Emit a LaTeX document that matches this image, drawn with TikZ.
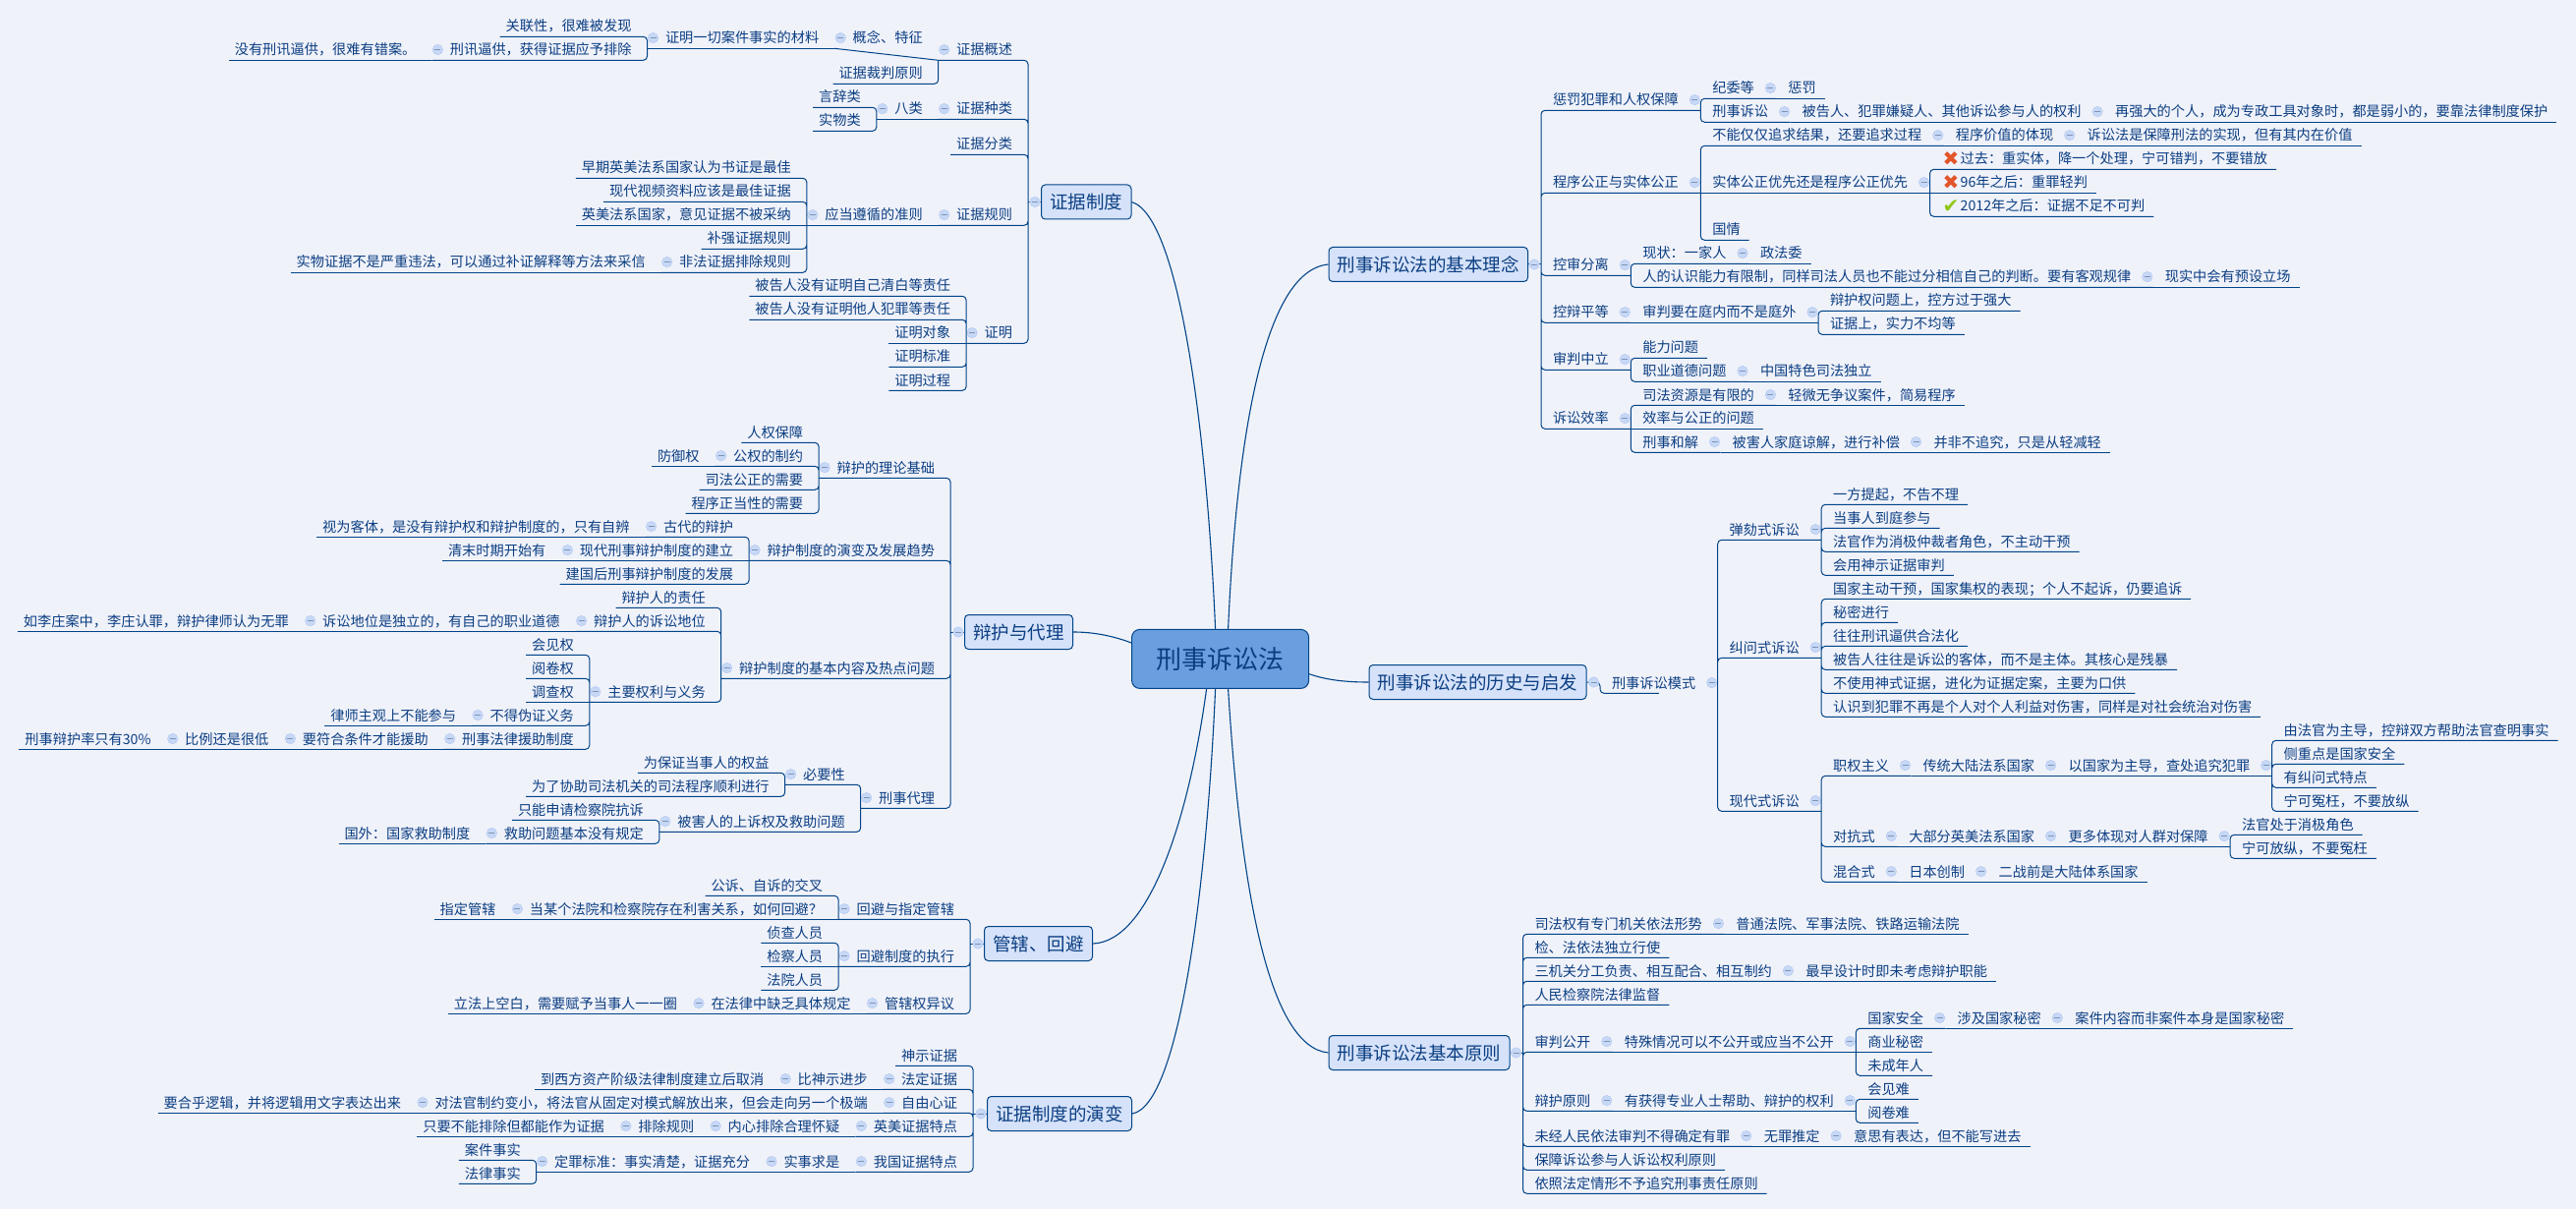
\documentclass[tikz,border=0pt]{standalone}
\usepackage{fontspec}
\setmainfont{Noto Sans CJK SC}
\newfontfamily\iconfont{DejaVu Sans}
\definecolor{bgcol}{HTML}{F0F2FA}
\definecolor{inkblue}{HTML}{0B3E82}
\definecolor{linkblue}{HTML}{004488}
\definecolor{topicfill}{HTML}{D5E2F9}
\definecolor{rootfill}{HTML}{6A9FDF}
\definecolor{foldfill}{HTML}{C6D8F6}
\definecolor{foldedge}{HTML}{AFC5EE}
\definecolor{foldminus}{HTML}{7F93B5}
\definecolor{crossred}{HTML}{E2552B}
\definecolor{tickgreen}{HTML}{8FC814}
\newcommand{\crossmk}{\makebox[19pt][c]{\raisebox{-1.8pt}{\fontsize{20}{20}\iconfont\textcolor{crossred}{✖}}}}
\newcommand{\tickmk}{\makebox[19pt][c]{\raisebox{-1.8pt}{\fontsize{20}{20}\iconfont\textcolor{tickgreen}{✔}}}}
\tikzset{
	item/.style={inner sep=0pt, outer sep=0pt, text=inkblue, font=\fontsize{14.2}{16}\selectfont, text height=18.7pt, text depth=5.3pt},
	foldmk/.style={circle, draw=foldedge, fill=foldfill, minimum size=10.5pt, inner sep=0pt,
		path picture={\draw[foldminus] ([xshift=-3pt]path picture bounding box.center) -- ([xshift=3pt]path picture bounding box.center);}},
	lf/.style={item, anchor=south east, execute at begin node={\hspace*{6pt}}, execute at end node={\hspace*{16pt}}},
	lp/.style={item, anchor=south east, execute at begin node={\hspace*{18.5pt}}, execute at end node={\hspace*{16pt}},
		append after command={node[foldmk] (\tikzlastnode-f) at ([shift={(6pt,10.7pt)}]\tikzlastnode.south west) {}}},
	rf/.style={item, anchor=south west, execute at begin node={\hspace*{12pt}}, execute at end node={\hspace*{9pt}}},
	rp/.style={item, anchor=south west, execute at begin node={\hspace*{12pt}}, execute at end node={\hspace*{22.5pt}},
		append after command={node[foldmk] (\tikzlastnode-f) at ([shift={(-6pt,10.7pt)}]\tikzlastnode.south east) {}}},
	topic/.style={draw=linkblue, line width=1pt, fill=topicfill, rounded corners=4pt, text=inkblue, font=\fontsize{18.5}{22}\selectfont, inner xsep=8.75pt, inner ysep=0pt, minimum height=35pt},
	root/.style={draw=linkblue, line width=1pt, fill=rootfill, rounded corners=8pt, text=inkblue, font=\fontsize{26}{30}\selectfont, minimum width=180pt, minimum height=60pt},
	lnk/.style={draw=linkblue, line width=1pt, rounded corners=4pt},
	branch/.style={draw=linkblue, line width=1.1pt},
}
\begin{document}
\begin{tikzpicture}[x=1pt, y=-1pt]
	\fill[bgcol, use as bounding box] (0,0) rectangle (2621,1230);

	% centre and the seven main topics
	\node[root] (root) at (1241.6,670.4) {刑事诉讼法};
	\node[topic, anchor=west] (zj) at (1059,205.5) {证据制度};
	\node[topic, anchor=west] (bh) at (981,643) {辩护与代理};
	\node[topic, anchor=west] (gx) at (1001,960) {管辖、回避};
	\node[topic, anchor=west] (yb) at (1004,1133) {证据制度的演变};
	\node[topic, anchor=west] (ll) at (1351.5,269) {刑事诉讼法的基本理念};
	\node[topic, anchor=west] (ls) at (1392.5,694) {刑事诉讼法的历史与启发};
	\node[topic, anchor=west] (yz) at (1351.5,1071) {刑事诉讼法基本原则};
	\coordinate (zjbus) at ([xshift=-13pt]zj.west);
	\coordinate (bhbus) at ([xshift=-14pt]bh.west);
	\coordinate (gxbus) at ([xshift=-14pt]gx.west);
	\coordinate (ybbus) at ([xshift=-14pt]yb.west);
	\coordinate (llbus) at ([xshift=13pt]ll.east);
	\coordinate (lsbus) at ([xshift=13.5pt]ls.east);
	\coordinate (yzbus) at ([xshift=13pt]yz.east);

	\draw[branch] ([xshift=-5pt]root.north) .. controls (1228,440) and (1200,220) .. (zj.east);
	\draw[branch] ([xshift=8pt]root.north) .. controls (1258,450) and (1285,275) .. (ll.west);
	\draw[branch] (root.west |- 0,654) .. controls (1130,646) and (1110,643) .. (bh.east);
	\draw[branch] (root.east |- 0,685.7) .. controls (1350,692) and (1370,694) .. (ls.west);
	\draw[branch] ([xshift=-14pt]root.south) .. controls (1210,830) and (1170,958) .. (gx.east);
	\draw[branch] ([xshift=-5pt]root.south) .. controls (1228,900) and (1200,1125) .. (yb.east);
	\draw[branch] ([xshift=8pt]root.south) .. controls (1262,900) and (1290,1065) .. (yz.west);

	% zhengju zhidu
	\node[lp] (zj1) at (zjbus |- 0,61.3) {证据概述};
	\node[lp] (zj1a) at (zj1.south west |- 0,49.3) {概念、特征};
	\node[lp] (zj1a1) at (zj1a.south west |- 0,49.3) {证明一切案件事实的材料};
	\node[lf] (zj1a1a) at (zj1a1.south west |- 0,37.3) {关联性，很难被发现};
	\node[lp] (zj1a1b) at (zj1a1.south west |- 0,61.3) {刑讯逼供，获得证据应予排除};
	\node[lf] (zj1a1b1) at (zj1a1b.south west |- 0,61.3) {没有刑讯逼供，很难有错案。};
	\node[lf] (zj1b) at (zj1.south west |- 0,85.3) {证据裁判原则};
	\node[lp] (zj2) at (zjbus |- 0,121.3) {证据种类};
	\node[lp] (zj2a) at (zj2.south west |- 0,121.3) {八类};
	\node[lf] (zj2a1) at (zj2a.south west |- 0,109.3) {言辞类};
	\node[lf] (zj2a2) at (zj2a.south west |- 0,133.3) {实物类};
	\node[lf] (zj3) at (zjbus |- 0,157.3) {证据分类};
	\node[lp] (zj4) at (zjbus |- 0,229.3) {证据规则};
	\node[lp] (zj4a) at (zj4.south west |- 0,229.3) {应当遵循的准则};
	\node[lf] (zj4a1) at (zj4a.south west |- 0,181.3) {早期英美法系国家认为书证是最佳};
	\node[lf] (zj4a2) at (zj4a.south west |- 0,205.3) {现代视频资料应该是最佳证据};
	\node[lf] (zj4a3) at (zj4a.south west |- 0,229.3) {英美法系国家，意见证据不被采纳};
	\node[lf] (zj4a4) at (zj4a.south west |- 0,253.3) {补强证据规则};
	\node[lp] (zj4a5) at (zj4a.south west |- 0,277.3) {非法证据排除规则};
	\node[lf] (zj4a5a) at (zj4a5.south west |- 0,277.3) {实物证据不是严重违法，可以通过补证解释等方法来采信};
	\node[lp] (zj5) at (zjbus |- 0,349.3) {证明};
	\node[lf] (zj5a) at (zj5.south west |- 0,301.3) {被告人没有证明自己清白等责任};
	\node[lf] (zj5b) at (zj5.south west |- 0,325.3) {被告人没有证明他人犯罪等责任};
	\node[lf] (zj5c) at (zj5.south west |- 0,349.3) {证明对象};
	\node[lf] (zj5d) at (zj5.south west |- 0,373.3) {证明标准};
	\node[lf] (zj5e) at (zj5.south west |- 0,397.3) {证明过程};

	\draw[lnk] (zj.west) -- (zjbus);
	\draw[lnk] (zj1.south west) -| (zjbus) (zj2.south west) -| (zjbus) (zj3.south west) -| (zjbus) (zj4.south west) -| (zjbus) (zj5.south west) -| (zjbus);
	\draw[lnk] (zj1a.south west) -- (zj1.south west) (zj1b.south west) -| (zj1.south west);
	\draw[lnk] (zj1a1.south west) -- (zj1a.south west);
	\draw[lnk] (zj1a1a.south west) -| (zj1a1.south west) (zj1a1b.south west) -| (zj1a1.south west);
	\draw[lnk] (zj1a1b1.south west) -- (zj1a1b.south west);
	\draw[lnk] (zj2a.south west) -- (zj2.south west);
	\draw[lnk] (zj2a1.south west) -| (zj2a.south west) (zj2a2.south west) -| (zj2a.south west);
	\draw[lnk] (zj4a.south west) -- (zj4.south west);
	\draw[lnk] (zj4a1.south west) -| (zj4a.south west) (zj4a2.south west) -| (zj4a.south west) (zj4a4.south west) -| (zj4a.south west) (zj4a5.south west) -| (zj4a.south west);
	\draw[lnk] (zj4a3.south west) -- (zj4a.south west);
	\draw[lnk] (zj4a5a.south west) -- (zj4a5.south west);
	\draw[lnk] (zj5a.south west) -| (zj5.south west) (zj5b.south west) -| (zj5.south west) (zj5d.south west) -| (zj5.south west) (zj5e.south west) -| (zj5.south west);
	\draw[lnk] (zj5c.south west) -- (zj5.south west);
	\node[foldmk] (zjf) at ([xshift=-6pt]zj.west) {};

	% bianhu yu daili
	\node[lp] (bh1) at (bhbus |- 0,486.3) {辩护的理论基础};
	\node[lf] (bh1a) at (bh1.south west |- 0,450.3) {人权保障};
	\node[lp] (bh1b) at (bh1.south west |- 0,474.3) {公权的制约};
	\node[lf] (bh1b1) at (bh1b.south west |- 0,474.3) {防御权};
	\node[lf] (bh1c) at (bh1.south west |- 0,498.3) {司法公正的需要};
	\node[lf] (bh1d) at (bh1.south west |- 0,522.3) {程序正当性的需要};
	\node[lp] (bh2) at (bhbus |- 0,570.3) {辩护制度的演变及发展趋势};
	\node[lp] (bh2a) at (bh2.south west |- 0,546.3) {古代的辩护};
	\node[lf] (bh2a1) at (bh2a.south west |- 0,546.3) {视为客体，是没有辩护权和辩护制度的，只有自辨};
	\node[lp] (bh2b) at (bh2.south west |- 0,570.3) {现代刑事辩护制度的建立};
	\node[lf] (bh2b1) at (bh2b.south west |- 0,570.3) {清末时期开始有};
	\node[lf] (bh2c) at (bh2.south west |- 0,594.3) {建国后刑事辩护制度的发展};
	\node[lp] (bh3) at (bhbus |- 0,690.3) {辩护制度的基本内容及热点问题};
	\node[lf] (bh3a) at (bh3.south west |- 0,618.3) {辩护人的责任};
	\node[lp] (bh3b) at (bh3.south west |- 0,642.3) {辩护人的诉讼地位};
	\node[lp] (bh3b1) at (bh3b.south west |- 0,642.3) {诉讼地位是独立的，有自己的职业道德};
	\node[lf] (bh3b2) at (bh3b1.south west |- 0,642.3) {如李庄案中，李庄认罪，辩护律师认为无罪};
	\node[lp] (bh3c) at (bh3.south west |- 0,714.3) {主要权利与义务};
	\node[lf] (bh3c1) at (bh3c.south west |- 0,666.3) {会见权};
	\node[lf] (bh3c2) at (bh3c.south west |- 0,690.3) {阅卷权};
	\node[lf] (bh3c3) at (bh3c.south west |- 0,714.3) {调查权};
	\node[lp] (bh3c4) at (bh3c.south west |- 0,738.3) {不得伪证义务};
	\node[lf] (bh3c4a) at (bh3c4.south west |- 0,738.3) {律师主观上不能参与};
	\node[lp] (bh3c5) at (bh3c.south west |- 0,762.3) {刑事法律援助制度};
	\node[lp] (bh3c5a) at (bh3c5.south west |- 0,762.3) {要符合条件才能援助};
	\node[lp] (bh3c5b) at (bh3c5a.south west |- 0,762.3) {比例还是很低};
	\node[lf] (bh3c5c) at (bh3c5b.south west |- 0,762.3) {刑事辩护率只有30\%};
	\node[lp] (bh4) at (bhbus |- 0,822.3) {刑事代理};
	\node[lp] (bh4a) at (bh4.south west |- 0,798.3) {必要性};
	\node[lf] (bh4a1) at (bh4a.south west |- 0,786.3) {为保证当事人的权益};
	\node[lf] (bh4a2) at (bh4a.south west |- 0,810.3) {为了协助司法机关的司法程序顺利进行};
	\node[lp] (bh4b) at (bh4.south west |- 0,846.3) {被害人的上诉权及救助问题};
	\node[lf] (bh4b1) at (bh4b.south west |- 0,834.3) {只能申请检察院抗诉};
	\node[lp] (bh4b2) at (bh4b.south west |- 0,858.3) {救助问题基本没有规定};
	\node[lf] (bh4b2a) at (bh4b2.south west |- 0,858.3) {国外：国家救助制度};

	\draw[lnk] (bh.west) -- (bhbus);
	\draw[lnk] (bh1.south west) -| (bhbus) (bh2.south west) -| (bhbus) (bh3.south west) -| (bhbus) (bh4.south west) -| (bhbus);
	\draw[lnk] (bh1a.south west) -| (bh1.south west) (bh1b.south west) -| (bh1.south west) (bh1c.south west) -| (bh1.south west) (bh1d.south west) -| (bh1.south west);
	\draw[lnk] (bh1b1.south west) -- (bh1b.south west);
	\draw[lnk] (bh2a.south west) -| (bh2.south west) (bh2c.south west) -| (bh2.south west);
	\draw[lnk] (bh2b.south west) -- (bh2.south west);
	\draw[lnk] (bh2a1.south west) -- (bh2a.south west);
	\draw[lnk] (bh2b1.south west) -- (bh2b.south west);
	\draw[lnk] (bh3a.south west) -| (bh3.south west) (bh3b.south west) -| (bh3.south west) (bh3c.south west) -| (bh3.south west);
	\draw[lnk] (bh3b1.south west) -- (bh3b.south west);
	\draw[lnk] (bh3b2.south west) -- (bh3b1.south west);
	\draw[lnk] (bh3c1.south west) -| (bh3c.south west) (bh3c2.south west) -| (bh3c.south west) (bh3c4.south west) -| (bh3c.south west) (bh3c5.south west) -| (bh3c.south west);
	\draw[lnk] (bh3c3.south west) -- (bh3c.south west);
	\draw[lnk] (bh3c4a.south west) -- (bh3c4.south west);
	\draw[lnk] (bh3c5a.south west) -- (bh3c5.south west);
	\draw[lnk] (bh3c5b.south west) -- (bh3c5a.south west);
	\draw[lnk] (bh3c5c.south west) -- (bh3c5b.south west);
	\draw[lnk] (bh4a.south west) -| (bh4.south west) (bh4b.south west) -| (bh4.south west);
	\draw[lnk] (bh4a1.south west) -| (bh4a.south west) (bh4a2.south west) -| (bh4a.south west);
	\draw[lnk] (bh4b1.south west) -| (bh4b.south west) (bh4b2.south west) -| (bh4b.south west);
	\draw[lnk] (bh4b2a.south west) -- (bh4b2.south west);
	\node[foldmk] (bhf) at ([xshift=-6pt]bh.west) {};

	% guanxia, huibi
	\node[lp] (gx1) at (gxbus |- 0,935.3) {回避与指定管辖};
	\node[lf] (gx1a) at (gx1.south west |- 0,911.3) {公诉、自诉的交叉};
	\node[lp] (gx1b) at (gx1.south west |- 0,935.3) {当某个法院和检察院存在利害关系，如何回避？};
	\node[lf] (gx1b1) at (gx1b.south west |- 0,935.3) {指定管辖};
	\node[lp] (gx2) at (gxbus |- 0,983.3) {回避制度的执行};
	\node[lf] (gx2a) at (gx2.south west |- 0,959.3) {侦查人员};
	\node[lf] (gx2b) at (gx2.south west |- 0,983.3) {检察人员};
	\node[lf] (gx2c) at (gx2.south west |- 0,1007.3) {法院人员};
	\node[lp] (gx3) at (gxbus |- 0,1031.3) {管辖权异议};
	\node[lp] (gx3a) at (gx3.south west |- 0,1031.3) {在法律中缺乏具体规定};
	\node[lf] (gx3b) at (gx3a.south west |- 0,1031.3) {立法上空白，需要赋予当事人一一圈};

	\draw[lnk] (gx.west) -- (gxbus);
	\draw[lnk] (gx1.south west) -| (gxbus) (gx2.south west) -| (gxbus) (gx3.south west) -| (gxbus);
	\draw[lnk] (gx1a.south west) -| (gx1.south west);
	\draw[lnk] (gx1b.south west) -- (gx1.south west);
	\draw[lnk] (gx1b1.south west) -- (gx1b.south west);
	\draw[lnk] (gx2a.south west) -| (gx2.south west) (gx2c.south west) -| (gx2.south west);
	\draw[lnk] (gx2b.south west) -- (gx2.south west);
	\draw[lnk] (gx3a.south west) -- (gx3.south west);
	\draw[lnk] (gx3b.south west) -- (gx3a.south west);
	\node[foldmk] (gxf) at ([xshift=-6pt]gx.west) {};

	% zhengju zhidu de yanbian
	\node[lf] (yb1) at (ybbus |- 0,1084.3) {神示证据};
	\node[lp] (yb2) at (ybbus |- 0,1108.3) {法定证据};
	\node[lp] (yb2a) at (yb2.south west |- 0,1108.3) {比神示进步};
	\node[lf] (yb2b) at (yb2a.south west |- 0,1108.3) {到西方资产阶级法律制度建立后取消};
	\node[lp] (yb3) at (ybbus |- 0,1132.3) {自由心证};
	\node[lp] (yb3a) at (yb3.south west |- 0,1132.3) {对法官制约变小，将法官从固定对模式解放出来，但会走向另一个极端};
	\node[lf] (yb3b) at (yb3a.south west |- 0,1132.3) {要合乎逻辑，并将逻辑用文字表达出来};
	\node[lp] (yb4) at (ybbus |- 0,1156.3) {英美证据特点};
	\node[lp] (yb4a) at (yb4.south west |- 0,1156.3) {内心排除合理怀疑};
	\node[lp] (yb4b) at (yb4a.south west |- 0,1156.3) {排除规则};
	\node[lf] (yb4c) at (yb4b.south west |- 0,1156.3) {只要不能排除但都能作为证据};
	\node[lp] (yb5) at (ybbus |- 0,1192.3) {我国证据特点};
	\node[lp] (yb5a) at (yb5.south west |- 0,1192.3) {实事求是};
	\node[lp] (yb5b) at (yb5a.south west |- 0,1192.3) {定罪标准：事实清楚，证据充分};
	\node[lf] (yb5b1) at (yb5b.south west |- 0,1180.3) {案件事实};
	\node[lf] (yb5b2) at (yb5b.south west |- 0,1204.3) {法律事实};

	\draw[lnk] (yb.west) -- (ybbus);
	\draw[lnk] (yb1.south west) -| (ybbus) (yb2.south west) -| (ybbus) (yb3.south west) -| (ybbus) (yb4.south west) -| (ybbus) (yb5.south west) -| (ybbus);
	\draw[lnk] (yb2a.south west) -- (yb2.south west);
	\draw[lnk] (yb2b.south west) -- (yb2a.south west);
	\draw[lnk] (yb3a.south west) -- (yb3.south west);
	\draw[lnk] (yb3b.south west) -- (yb3a.south west);
	\draw[lnk] (yb4a.south west) -- (yb4.south west);
	\draw[lnk] (yb4b.south west) -- (yb4a.south west);
	\draw[lnk] (yb4c.south west) -- (yb4b.south west);
	\draw[lnk] (yb5a.south west) -- (yb5.south west);
	\draw[lnk] (yb5b.south west) -- (yb5a.south west);
	\draw[lnk] (yb5b1.south west) -| (yb5b.south west) (yb5b2.south west) -| (yb5b.south west);
	\node[foldmk] (ybf) at ([xshift=-6pt]yb.west) {};

	% jiben linian
	\node[rp] (ll1) at (llbus |- 0,112.3) {惩罚犯罪和人权保障};
	\node[rp] (ll1a) at (ll1.south east |- 0,100.3) {纪委等};
	\node[rf] (ll1a1) at (ll1a.south east |- 0,100.3) {惩罚};
	\node[rp] (ll1b) at (ll1.south east |- 0,124.3) {刑事诉讼};
	\node[rp] (ll1b1) at (ll1b.south east |- 0,124.3) {被告人、犯罪嫌疑人、其他诉讼参与人的权利};
	\node[rf] (ll1b2) at (ll1b1.south east |- 0,124.3) {再强大的个人，成为专政工具对象时，都是弱小的，要靠法律制度保护};
	\node[rp] (ll2) at (llbus |- 0,196.3) {程序公正与实体公正};
	\node[rp] (ll2a) at (ll2.south east |- 0,148.3) {不能仅仅追求结果，还要追求过程};
	\node[rp] (ll2a1) at (ll2a.south east |- 0,148.3) {程序价值的体现};
	\node[rf] (ll2a2) at (ll2a1.south east |- 0,148.3) {诉讼法是保障刑法的实现，但有其内在价值};
	\node[rp] (ll2b) at (ll2.south east |- 0,196.3) {实体公正优先还是程序公正优先};
	\node[rf] (ll2b1) at (ll2b.south east |- 0,172.3) {\crossmk 过去：重实体，降一个处理，宁可错判，不要错放};
	\node[rf] (ll2b2) at (ll2b.south east |- 0,196.3) {\crossmk 96年之后：重罪轻判};
	\node[rf] (ll2b3) at (ll2b.south east |- 0,220.3) {\tickmk 2012年之后：证据不足不可判};
	\node[rf] (ll2c) at (ll2.south east |- 0,244.3) {国情};
	\node[rp] (ll3) at (llbus |- 0,280.3) {控审分离};
	\node[rp] (ll3a) at (ll3.south east |- 0,268.3) {现状：一家人};
	\node[rf] (ll3a1) at (ll3a.south east |- 0,268.3) {政法委};
	\node[rp] (ll3b) at (ll3.south east |- 0,292.3) {人的认识能力有限制，同样司法人员也不能过分相信自己的判断。要有客观规律};
	\node[rf] (ll3b1) at (ll3b.south east |- 0,292.3) {现实中会有预设立场};
	\node[rp] (ll4) at (llbus |- 0,328.3) {控辩平等};
	\node[rp] (ll4a) at (ll4.south east |- 0,328.3) {审判要在庭内而不是庭外};
	\node[rf] (ll4a1) at (ll4a.south east |- 0,316.3) {辩护权问题上，控方过于强大};
	\node[rf] (ll4a2) at (ll4a.south east |- 0,340.3) {证据上，实力不均等};
	\node[rp] (ll5) at (llbus |- 0,376.3) {审判中立};
	\node[rf] (ll5a) at (ll5.south east |- 0,364.3) {能力问题};
	\node[rp] (ll5b) at (ll5.south east |- 0,388.3) {职业道德问题};
	\node[rf] (ll5b1) at (ll5b.south east |- 0,388.3) {中国特色司法独立};
	\node[rp] (ll6) at (llbus |- 0,436.3) {诉讼效率};
	\node[rp] (ll6a) at (ll6.south east |- 0,412.3) {司法资源是有限的};
	\node[rf] (ll6a1) at (ll6a.south east |- 0,412.3) {轻微无争议案件，简易程序};
	\node[rf] (ll6b) at (ll6.south east |- 0,436.3) {效率与公正的问题};
	\node[rp] (ll6c) at (ll6.south east |- 0,460.3) {刑事和解};
	\node[rp] (ll6c1) at (ll6c.south east |- 0,460.3) {被害人家庭谅解，进行补偿};
	\node[rf] (ll6c2) at (ll6c1.south east |- 0,460.3) {并非不追究，只是从轻减轻};

	\draw[lnk] (ll.east) -- (llbus);
	\draw[lnk] (ll1.south east) -| (llbus) (ll2.south east) -| (llbus) (ll3.south east) -| (llbus) (ll4.south east) -| (llbus) (ll5.south east) -| (llbus) (ll6.south east) -| (llbus);
	\draw[lnk] (ll1a.south east) -| (ll1.south east) (ll1b.south east) -| (ll1.south east);
	\draw[lnk] (ll1a1.south east) -- (ll1a.south east);
	\draw[lnk] (ll1b1.south east) -- (ll1b.south east);
	\draw[lnk] (ll1b2.south east) -- (ll1b1.south east);
	\draw[lnk] (ll2a.south east) -| (ll2.south east) (ll2c.south east) -| (ll2.south east);
	\draw[lnk] (ll2b.south east) -- (ll2.south east);
	\draw[lnk] (ll2a1.south east) -- (ll2a.south east);
	\draw[lnk] (ll2a2.south east) -- (ll2a1.south east);
	\draw[lnk] (ll2b1.south east) -| (ll2b.south east) (ll2b3.south east) -| (ll2b.south east);
	\draw[lnk] (ll2b2.south east) -- (ll2b.south east);
	\draw[lnk] (ll3a.south east) -| (ll3.south east) (ll3b.south east) -| (ll3.south east);
	\draw[lnk] (ll3a1.south east) -- (ll3a.south east);
	\draw[lnk] (ll3b1.south east) -- (ll3b.south east);
	\draw[lnk] (ll4a.south east) -- (ll4.south east);
	\draw[lnk] (ll4a1.south east) -| (ll4a.south east) (ll4a2.south east) -| (ll4a.south east);
	\draw[lnk] (ll5a.south east) -| (ll5.south east) (ll5b.south east) -| (ll5.south east);
	\draw[lnk] (ll5b1.south east) -- (ll5b.south east);
	\draw[lnk] (ll6a.south east) -| (ll6.south east) (ll6c.south east) -| (ll6.south east);
	\draw[lnk] (ll6b.south east) -- (ll6.south east);
	\draw[lnk] (ll6a1.south east) -- (ll6a.south east);
	\draw[lnk] (ll6c1.south east) -- (ll6c.south east);
	\draw[lnk] (ll6c2.south east) -- (ll6c1.south east);
	\node[foldmk] (llf) at ([xshift=6pt]ll.east) {};

	% lishi yu qifa
	\node[rp] (ls1) at (lsbus |- 0,705.3) {刑事诉讼模式};
	\node[rp] (ls1a) at (ls1.south east |- 0,549.3) {弹劾式诉讼};
	\node[rf] (ls1a1) at (ls1a.south east |- 0,513.3) {一方提起，不告不理};
	\node[rf] (ls1a2) at (ls1a.south east |- 0,537.3) {当事人到庭参与};
	\node[rf] (ls1a3) at (ls1a.south east |- 0,561.3) {法官作为消极仲裁者角色，不主动干预};
	\node[rf] (ls1a4) at (ls1a.south east |- 0,585.3) {会用神示证据审判};
	\node[rp] (ls1b) at (ls1.south east |- 0,669.3) {纠问式诉讼};
	\node[rf] (ls1b1) at (ls1b.south east |- 0,609.3) {国家主动干预，国家集权的表现；个人不起诉，仍要追诉};
	\node[rf] (ls1b2) at (ls1b.south east |- 0,633.3) {秘密进行};
	\node[rf] (ls1b3) at (ls1b.south east |- 0,657.3) {往往刑讯逼供合法化};
	\node[rf] (ls1b4) at (ls1b.south east |- 0,681.3) {被告人往往是诉讼的客体，而不是主体。其核心是残暴};
	\node[rf] (ls1b5) at (ls1b.south east |- 0,705.3) {不使用神式证据，进化为证据定案，主要为口供};
	\node[rf] (ls1b6) at (ls1b.south east |- 0,729.3) {认识到犯罪不再是个人对个人利益对伤害，同样是对社会统治对伤害};
	\node[rp] (ls1c) at (ls1.south east |- 0,825.3) {现代式诉讼};
	\node[rp] (ls1c1) at (ls1c.south east |- 0,789.3) {职权主义};
	\node[rp] (ls1c1a) at (ls1c1.south east |- 0,789.3) {传统大陆法系国家};
	\node[rp] (ls1c1b) at (ls1c1a.south east |- 0,789.3) {以国家为主导，查处追究犯罪};
	\node[rf] (ls1c1b1) at (ls1c1b.south east |- 0,753.3) {由法官为主导，控辩双方帮助法官查明事实};
	\node[rf] (ls1c1b2) at (ls1c1b.south east |- 0,777.3) {侧重点是国家安全};
	\node[rf] (ls1c1b3) at (ls1c1b.south east |- 0,801.3) {有纠问式特点};
	\node[rf] (ls1c1b4) at (ls1c1b.south east |- 0,825.3) {宁可冤枉，不要放纵};
	\node[rp] (ls1c2) at (ls1c.south east |- 0,861.3) {对抗式};
	\node[rp] (ls1c2a) at (ls1c2.south east |- 0,861.3) {大部分英美法系国家};
	\node[rp] (ls1c2b) at (ls1c2a.south east |- 0,861.3) {更多体现对人群对保障};
	\node[rf] (ls1c2b1) at (ls1c2b.south east |- 0,849.3) {法官处于消极角色};
	\node[rf] (ls1c2b2) at (ls1c2b.south east |- 0,873.3) {宁可放纵，不要冤枉};
	\node[rp] (ls1c3) at (ls1c.south east |- 0,897.3) {混合式};
	\node[rp] (ls1c3a) at (ls1c3.south east |- 0,897.3) {日本创制};
	\node[rf] (ls1c3b) at (ls1c3a.south east |- 0,897.3) {二战前是大陆体系国家};

	\draw[lnk] (ls.east) -- (lsbus) |- (ls1.south);
	\draw[lnk] (ls1a.south east) -| (ls1.south east) (ls1b.south east) -| (ls1.south east) (ls1c.south east) -| (ls1.south east);
	\draw[lnk] (ls1a1.south east) -| (ls1a.south east) (ls1a2.south east) -| (ls1a.south east) (ls1a3.south east) -| (ls1a.south east) (ls1a4.south east) -| (ls1a.south east);
	\draw[lnk] (ls1b1.south east) -| (ls1b.south east) (ls1b2.south east) -| (ls1b.south east) (ls1b3.south east) -| (ls1b.south east) (ls1b4.south east) -| (ls1b.south east) (ls1b5.south east) -| (ls1b.south east) (ls1b6.south east) -| (ls1b.south east);
	\draw[lnk] (ls1c1.south east) -| (ls1c.south east) (ls1c2.south east) -| (ls1c.south east) (ls1c3.south east) -| (ls1c.south east);
	\draw[lnk] (ls1c1a.south east) -- (ls1c1.south east);
	\draw[lnk] (ls1c1b.south east) -- (ls1c1a.south east);
	\draw[lnk] (ls1c1b1.south east) -| (ls1c1b.south east) (ls1c1b2.south east) -| (ls1c1b.south east) (ls1c1b3.south east) -| (ls1c1b.south east) (ls1c1b4.south east) -| (ls1c1b.south east);
	\draw[lnk] (ls1c2a.south east) -- (ls1c2.south east);
	\draw[lnk] (ls1c2b.south east) -- (ls1c2a.south east);
	\draw[lnk] (ls1c2b1.south east) -| (ls1c2b.south east) (ls1c2b2.south east) -| (ls1c2b.south east);
	\draw[lnk] (ls1c3a.south east) -- (ls1c3.south east);
	\draw[lnk] (ls1c3b.south east) -- (ls1c3a.south east);
	\node[foldmk] (lsf) at ([xshift=7pt]ls.east) {};

	% jiben yuanze
	\node[rp] (yz1) at (yzbus |- 0,950.3) {司法权有专门机关依法形势};
	\node[rf] (yz1a) at (yz1.south east |- 0,950.3) {普通法院、军事法院、铁路运输法院};
	\node[rf] (yz2) at (yzbus |- 0,974.3) {检、法依法独立行使};
	\node[rp] (yz3) at (yzbus |- 0,998.3) {三机关分工负责、相互配合、相互制约};
	\node[rf] (yz3a) at (yz3.south east |- 0,998.3) {最早设计时即未考虑辩护职能};
	\node[rf] (yz4) at (yzbus |- 0,1022.3) {人民检察院法律监督};
	\node[rp] (yz5) at (yzbus |- 0,1070.3) {审判公开};
	\node[rp] (yz5a) at (yz5.south east |- 0,1070.3) {特殊情况可以不公开或应当不公开};
	\node[rp] (yz5a1) at (yz5a.south east |- 0,1046.3) {国家安全};
	\node[rp] (yz5a1a) at (yz5a1.south east |- 0,1046.3) {涉及国家秘密};
	\node[rf] (yz5a1b) at (yz5a1a.south east |- 0,1046.3) {案件内容而非案件本身是国家秘密};
	\node[rf] (yz5a2) at (yz5a.south east |- 0,1070.3) {商业秘密};
	\node[rf] (yz5a3) at (yz5a.south east |- 0,1094.3) {未成年人};
	\node[rp] (yz6) at (yzbus |- 0,1130.3) {辩护原则};
	\node[rp] (yz6a) at (yz6.south east |- 0,1130.3) {有获得专业人士帮助、辩护的权利};
	\node[rf] (yz6a1) at (yz6a.south east |- 0,1118.3) {会见难};
	\node[rf] (yz6a2) at (yz6a.south east |- 0,1142.3) {阅卷难};
	\node[rp] (yz7) at (yzbus |- 0,1166.3) {未经人民依法审判不得确定有罪};
	\node[rp] (yz7a) at (yz7.south east |- 0,1166.3) {无罪推定};
	\node[rf] (yz7b) at (yz7a.south east |- 0,1166.3) {意思有表达，但不能写进去};
	\node[rf] (yz8) at (yzbus |- 0,1190.3) {保障诉讼参与人诉讼权利原则};
	\node[rf] (yz9) at (yzbus |- 0,1214.3) {依照法定情形不予追究刑事责任原则};

	\draw[lnk] (yz.east) -- (yzbus);
	\draw[lnk] (yz1.south east) -| (yzbus) (yz2.south east) -| (yzbus) (yz3.south east) -| (yzbus) (yz4.south east) -| (yzbus) (yz5.south east) -| (yzbus) (yz6.south east) -| (yzbus) (yz7.south east) -| (yzbus) (yz8.south east) -| (yzbus) (yz9.south east) -| (yzbus);
	\draw[lnk] (yz1a.south east) -- (yz1.south east);
	\draw[lnk] (yz3a.south east) -- (yz3.south east);
	\draw[lnk] (yz5a.south east) -- (yz5.south east);
	\draw[lnk] (yz5a1.south east) -| (yz5a.south east) (yz5a3.south east) -| (yz5a.south east);
	\draw[lnk] (yz5a2.south east) -- (yz5a.south east);
	\draw[lnk] (yz5a1a.south east) -- (yz5a1.south east);
	\draw[lnk] (yz5a1b.south east) -- (yz5a1a.south east);
	\draw[lnk] (yz6a.south east) -- (yz6.south east);
	\draw[lnk] (yz6a1.south east) -| (yz6a.south east) (yz6a2.south east) -| (yz6a.south east);
	\draw[lnk] (yz7a.south east) -- (yz7.south east);
	\draw[lnk] (yz7b.south east) -- (yz7a.south east);
	\node[foldmk] (yzf) at ([xshift=6pt]yz.east) {};
\end{tikzpicture}
\end{document}
